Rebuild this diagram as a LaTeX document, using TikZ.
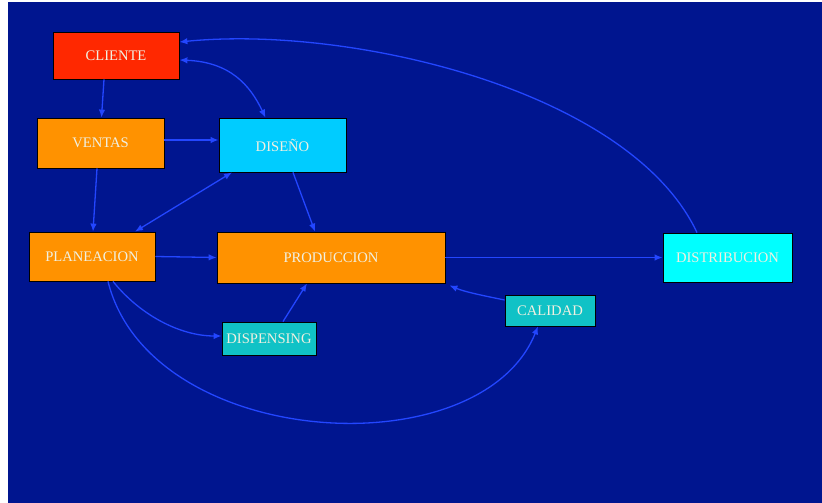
\documentclass[tikz,border=0pt]{standalone}
\usepackage{fontspec}
\setmainfont{Liberation Serif}
\usetikzlibrary{arrows.meta,calc}
\definecolor{bg}{RGB}{0,21,143}
\definecolor{edgec}{RGB}{35,70,255}
\definecolor{cred}{RGB}{255,40,0}
\definecolor{corange}{RGB}{255,146,0}
\definecolor{cblue}{RGB}{0,204,255}
\definecolor{cteal}{RGB}{16,194,198}
\definecolor{ccyan}{RGB}{0,255,255}
\definecolor{txt}{RGB}{240,240,225}
\begin{document}
\begin{tikzpicture}[x=1pt,y=1pt,
  box/.style={draw=black,line width=0.8pt,text=txt,font=\fontsize{14.6}{16}\selectfont,inner sep=0pt,anchor=center},
  link/.style={draw=edgec,line width=1.3pt,-{Latex[length=8pt,width=6.5pt]}},
  blink/.style={draw=edgec,line width=1.3pt,{Latex[length=8pt,width=6.5pt]}-{Latex[length=8pt,width=6.5pt]}}]
\useasboundingbox (0,0) rectangle (822,-503);
\fill[white] (0,0) rectangle (822,-503);
\fill[bg] (8,-2) rectangle (822,-503);

\node[box,fill=cred,minimum width=126pt,minimum height=47pt] (cli) at (116,-55.5) {CLIENTE};
\node[box,fill=corange,minimum width=127pt,minimum height=50pt] (ven) at (100.5,-143) {VENTAS};
\node[box,fill=cblue,minimum width=127pt,minimum height=54pt] (dis) at (282.5,-145) {DISEÑO};
\node[box,fill=corange,minimum width=126pt,minimum height=49pt] (pla) at (92,-256.5) {PLANEACION};
\node[box,fill=corange,minimum width=228pt,minimum height=51pt] (pro) at (331,-257.5) {PRODUCCION};
\node[box,fill=cteal,minimum width=94pt,minimum height=33pt] (dsp) at (269,-338.5) {DISPENSING};
\node[box,fill=cteal,minimum width=90pt,minimum height=31pt] (cal) at (550,-310.5) {CALIDAD};
\node[box,fill=ccyan,minimum width=129pt,minimum height=49pt] (dst) at (727.5,-257.5) {DISTRIBUCION};

\draw[link] ($(cli.south)+(-12,0)$) -- ($(ven.north)+(1,0)$);
\draw[link] ($(ven.east)+(0,3)$) -- ($(dis.west)+(0,5)$);
\draw[blink] ($(cli.east)+(0,-4.5)$) .. controls (230,-62) and (250,-85) .. ($(dis.north)+(-17,0)$);
\draw[link] ($(dst.north)+(-30.5,0)$) .. controls (630,-90) and (350,-25) .. ($(cli.east)+(0,13.5)$);
\draw[link] ($(ven.south)+(-3.5,0)$) -- ($(pla.north)+(1,0)$);
\draw[blink] ($(dis.south)+(-50.5,0)$) -- ($(pla.north)+(43,0)$);
\draw[link] ($(dis.south)+(10.5,0)$) -- ($(pro.north)+(-16,0)$);
\draw[link] (pla.east) -- (pro.west);
\draw[link] ($(pla.south)+(21,0)$) .. controls (140,-315) and (180,-336) .. ($(dsp.west)+(0,2.5)$);
\draw[link] ($(dsp.north)+(14,0)$) -- ($(pro.south)+(-24,0)$);
\draw[link] (pro.east) -- (dst.west);
\draw[link] ($(cal.west)+(0,10.5)$) .. controls (485,-296) and (465,-292) .. ($(pro.south east)+(4,-2)$);
\draw[link] ($(pla.south)+(16,0)$) .. controls (150,-450) and (480,-470) .. ($(cal.south)+(-12,0)$);
\end{tikzpicture}
\end{document}
